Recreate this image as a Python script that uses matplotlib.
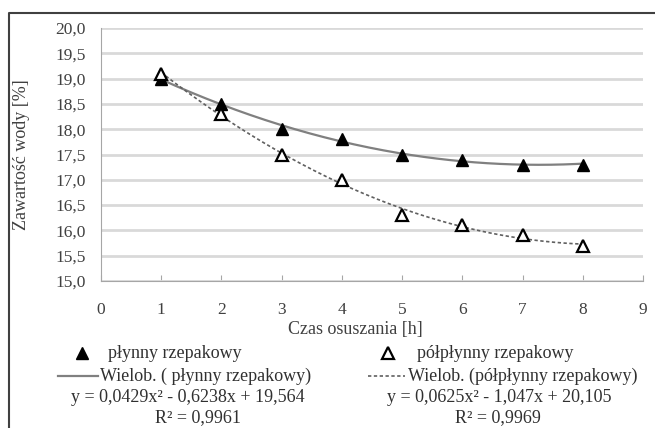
import numpy as np
import matplotlib
matplotlib.use("Agg")
import matplotlib.pyplot as plt
from matplotlib.lines import Line2D

plt.rcParams["font.family"] = ["Liberation Serif", "DejaVu Serif"]

# drying time [h]
hours = [1, 2, 3, 4, 5, 6, 7, 8]
# water content [%]
plynny = [19.0, 18.5, 18.0, 17.8, 17.5, 17.4, 17.3, 17.3]
polplynny = [19.1, 18.3, 17.5, 17.0, 16.3, 16.1, 15.9, 15.7]

# polynomial trendline coefficients (a, b, c) and R^2 as printed on the chart
coef_plynny = [0.0429, -0.6238, 19.564]
coef_polplynny = [0.0625, -1.047, 20.105]
r2_plynny = 0.9961
r2_polplynny = 0.9969

y_ticks = [15.0, 15.5, 16.0, 16.5, 17.0, 17.5, 18.0, 18.5, 19.0, 19.5, 20.0]
x_ticks = list(range(0, 10))

W, H = 655, 428
fig = plt.figure(figsize=(W / 100, H / 100), dpi=100)
ax = fig.add_axes([101 / W, 1 - 281 / H, 542 / W, 253 / H])

xs = np.linspace(1, 8, 200)
ax.plot(xs, np.polyval(coef_plynny, xs), color="#808080", lw=1.6, zorder=3)
ax.plot(xs, np.polyval(coef_polplynny, xs), color="#606060", lw=1.2,
        linestyle=(0, (2, 1.5)), zorder=3)
ax.plot(hours, plynny, linestyle="none", marker="^", ms=9,
        color="black", zorder=4)
ax.plot(hours, polplynny, linestyle="none", marker="^", ms=9,
        markerfacecolor="white", markeredgecolor="black", mew=1.6, zorder=4)

ax.set_xlim(0, 9)
ax.set_ylim(15, 20)
ax.set_xticks(x_ticks)
ax.set_yticks(y_ticks)
ax.set_yticklabels([f"{v:.1f}".replace(".", ",") for v in y_ticks])
ax.yaxis.grid(True, color="#d9d9d9", lw=2)
ax.set_axisbelow(True)
for side in ("top", "right"):
    ax.spines[side].set_visible(False)
for side in ("left", "bottom"):
    ax.spines[side].set_color("#a6a6a6")
ax.tick_params(axis="x", direction="in", length=4, color="#a6a6a6",
               labelsize=12.5, pad=15, labelcolor="#404040")
ax.tick_params(axis="y", length=0, labelsize=12.5, pad=11, labelcolor="#404040")

ax.set_xlabel("Czas osuszania [h]", fontsize=13, color="#404040")
ax.xaxis.set_label_coords((355 - 101) / 542, -(321 - 281) / 253)
ax.set_ylabel("Zawartość wody [%]", fontsize=13, color="#404040")
ax.yaxis.set_label_coords((30 - 101) / 542, 0.5)


def fx(px):
    return px / W


def fy(py):
    return 1 - py / H


txt = dict(fontsize=13, color="#303030", va="center")

# legend, left column
fig.add_artist(Line2D([fx(82)], [fy(353)], marker="^", ms=8, color="black",
                      linestyle="none"))
fig.text(fx(108), fy(353), "płynny rzepakowy", **txt)
fig.add_artist(Line2D([fx(58), fx(98)], [fy(376), fy(376)], color="#808080", lw=1.6))
fig.text(fx(100), fy(376), "Wielob. ( płynny rzepakowy)", **txt)
fig.text(fx(188), fy(398),
         f"y = {coef_plynny[0]:.4f}x² - {abs(coef_plynny[1]):.4f}x + {coef_plynny[2]:.3f}".replace(".", ","),
         ha="center", **txt)
fig.text(fx(198), fy(418), f"R² = {r2_plynny:.4f}".replace(".", ","), ha="center", **txt)

# legend, right column
fig.add_artist(Line2D([fx(388)], [fy(353)], marker="^", ms=8, markerfacecolor="white",
                      markeredgecolor="black", mew=1.6, linestyle="none"))
fig.text(fx(417), fy(353), "półpłynny rzepakowy", **txt)
fig.add_artist(Line2D([fx(368), fx(405)], [fy(376), fy(376)], color="#606060", lw=1.2,
                      linestyle=(0, (2, 1.5))))
fig.text(fx(408), fy(376), "Wielob. (półpłynny rzepakowy)", **txt)
fig.text(fx(499), fy(398),
         f"y = {coef_polplynny[0]:.4f}x² - {abs(coef_polplynny[1]):.3f}x + {coef_polplynny[2]:.3f}".replace(".", ","),
         ha="center", **txt)
fig.text(fx(498), fy(418), f"R² = {r2_polplynny:.4f}".replace(".", ","), ha="center", **txt)

# outer chart frame (top and left edges visible in the crop)
fig.add_artist(Line2D([fx(9), fx(9), fx(W + 5)], [fy(H + 5), fy(13), fy(13)],
                      color="#404040", lw=1.5))

fig.savefig("out.png", dpi=100)
